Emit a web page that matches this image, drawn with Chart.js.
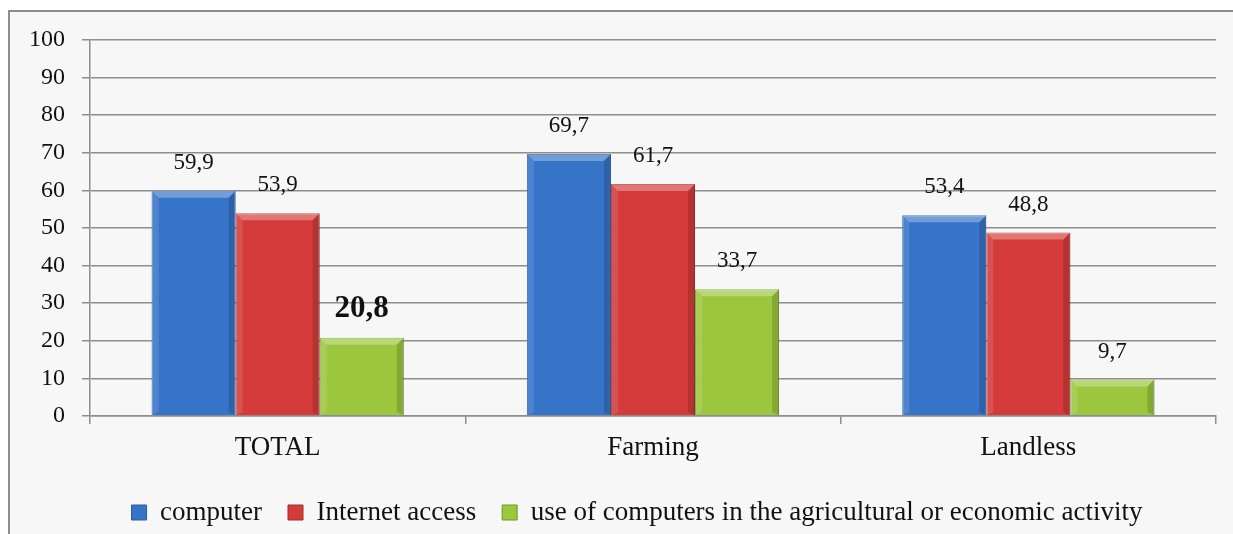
<!DOCTYPE html>
<html>
<head>
<meta charset="utf-8">
<script src="https://cdn.jsdelivr.net/npm/chart.js@4.4.1/dist/chart.umd.min.js"></script>
<style>
    body { margin: 0; background: #ffffff; }
    #frame {
        position: absolute; left: 8px; top: 10px; width: 1240px; height: 540px;
        background: #f7f7f7; border-left: 2px solid #8c8c8c; border-top: 2px solid #8c8c8c;
    }
    #chart { position: absolute; left: 0; top: 0; }
</style>
</head>
<body>
<div id="frame"></div>
<canvas id="chart" width="1233" height="534"></canvas>
<script>
// data
const groups = ['TOTAL', 'Farming', 'Landless'];
const seriesNames = ['computer', 'Internet access', 'use of computers in the agricultural or economic activity'];
const computerValues = [59.9, 69.7, 53.4];
const internetValues = [53.9, 61.7, 48.8];
const agriValues = [20.8, 33.7, 9.7];
const yTicks = [0, 10, 20, 30, 40, 50, 60, 70, 80, 90, 100];

const serif = "'Liberation Serif', 'Times New Roman', serif";

// data labels above bars, comma decimals
const valueLabels = {
    id: 'valueLabels',
    afterDatasetsDraw(chart) {
        const ctx = chart.ctx;
        ctx.save();
        ctx.fillStyle = '#111';
        ctx.textAlign = 'center';
        ctx.textBaseline = 'middle';
        chart.data.datasets.forEach((ds, di) => {
            chart.getDatasetMeta(di).data.forEach((bar, i) => {
                let big = (di === 2 && i === 0);
                ctx.font = big ? 'bold 31px ' + serif : '23px ' + serif;
                let txt = ds.data[i].toFixed(1).replace('.', ',');
                ctx.fillText(txt, bar.x, bar.y - (big ? 29 : 28));
            });
        });
        ctx.restore();
    }
};

// simple bevel look on the bars
const bevel = {
    id: 'bevel',
    afterDatasetsDraw(chart) {
        const ctx = chart.ctx;
        ctx.save();
        chart.data.datasets.forEach((ds, di) => {
            chart.getDatasetMeta(di).data.forEach(bar => {
                let l = bar.x - bar.width / 2, r = bar.x + bar.width / 2;
                let t = bar.y, b = bar.base, e = 7;
                ctx.fillStyle = 'rgba(255,255,255,0.30)';
                ctx.beginPath();
                ctx.moveTo(l, t); ctx.lineTo(r, t); ctx.lineTo(r - e, t + e); ctx.lineTo(l + e, t + e);
                ctx.closePath(); ctx.fill();
                ctx.fillStyle = 'rgba(255,255,255,0.12)';
                ctx.beginPath();
                ctx.moveTo(l, t); ctx.lineTo(l + e, t + e); ctx.lineTo(l + e, b - 3); ctx.lineTo(l, b);
                ctx.closePath(); ctx.fill();
                ctx.fillStyle = 'rgba(0,0,0,0.15)';
                ctx.beginPath();
                ctx.moveTo(r, t); ctx.lineTo(r - e, t + e); ctx.lineTo(r - e, b - 3); ctx.lineTo(r, b);
                ctx.closePath(); ctx.fill();
            });
        });
        ctx.restore();
    }
};

// the original legend sits a bit right of the canvas centre
const legendShift = {
    id: 'legendShift',
    afterLayout(chart) {
        chart.legend.left += 29;
        chart.legend.right += 29;
    }
};

const ctx = document.getElementById('chart').getContext('2d');
const myChart = new Chart(ctx, {
    type: 'bar',
    data: {
        labels: groups,
        datasets: [{
            label: seriesNames[0],
            data: computerValues,
            backgroundColor: '#3674c8',
            borderColor: '#2a5a9e',
            borderWidth: 1
        }, {
            label: seriesNames[1],
            data: internetValues,
            backgroundColor: '#d43b3a',
            borderColor: '#a32d2b',
            borderWidth: 1
        }, {
            label: seriesNames[2],
            data: agriValues,
            backgroundColor: '#9cc63d',
            borderColor: '#6e9626',
            borderWidth: 1
        }]
    },
    options: {
        responsive: false,
        animation: false,
        layout: { padding: { left: 0, right: 17, top: 40, bottom: -2 } },
        datasets: {
            bar: { categoryPercentage: 0.672, barPercentage: 1.0 }
        },
        scales: {
            y: {
                min: 0,
                max: 100,
                afterBuildTicks: scale => { scale.ticks = yTicks.map(v => ({ value: v })); },
                afterFit: scale => { scale.width = 90; },
                ticks: { color: '#111', font: { family: serif, size: 24 }, padding: 17 },
                grid: { color: '#8e8e8e', lineWidth: 1.5, tickLength: 8 },
                border: { color: '#8e8e8e', width: 1.5 }
            },
            x: {
                afterFit: scale => { scale.height = 57; },
                ticks: { color: '#111', font: { family: serif, size: 27 }, padding: 8 },
                grid: { drawOnChartArea: false, offset: true, color: '#8e8e8e', lineWidth: 1.5, tickLength: 8 },
                border: { color: '#8e8e8e', width: 1.5 }
            }
        },
        plugins: {
            legend: {
                position: 'bottom',
                labels: {
                    color: '#111',
                    font: { family: serif, size: 27, lineHeight: 1.0 },
                    boxWidth: 15,
                    boxHeight: 15,
                    padding: 26,
                    useBorderRadius: false
                }
            },
            tooltip: { enabled: false }
        }
    },
    plugins: [legendShift, bevel, valueLabels]
});
</script>
</body>
</html>
